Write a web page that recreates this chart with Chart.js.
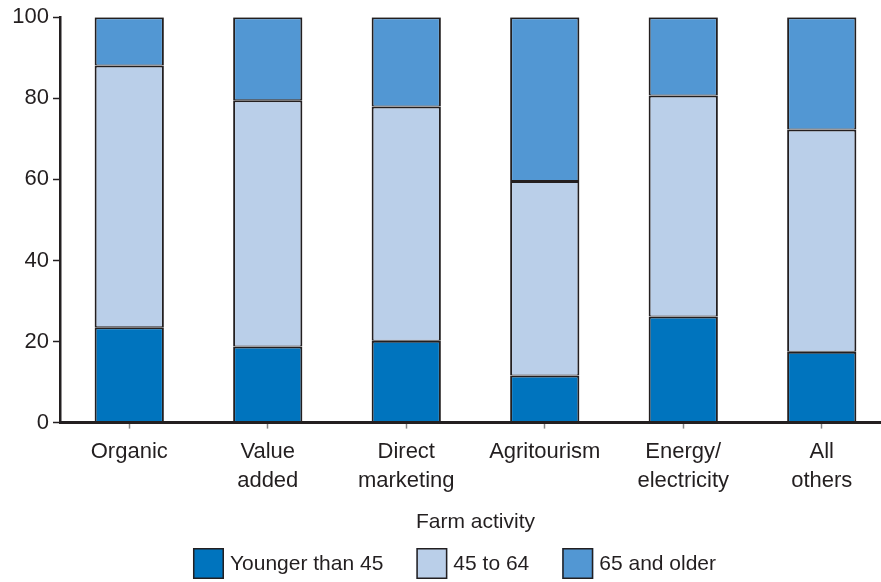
<!DOCTYPE html>
<html>
<head>
<meta charset="utf-8">
<script src="https://cdn.jsdelivr.net/npm/chart.js@4"></script>
<style>
html,body{margin:0;padding:0;background:#fff;overflow:hidden;width:881px;height:582px;}
canvas{display:block;}
</style>
</head>
<body>
<canvas id="c" width="891" height="582"></canvas>
<script>
const categories = [["Organic"], ["Value", "added"], ["Direct", "marketing"], ["Agritourism"], ["Energy/", "electricity"], ["All", "others"]];
const seriesNames = ["Younger than 45", "45 to 64", "65 and older"];
const younger = [23.5, 18.8, 20.2, 11.6, 26.2, 17.5];
const middle = [64.6, 60.7, 57.8, 48.0, 54.5, 54.8];
const older = [11.9, 20.5, 22.0, 40.4, 19.3, 27.7];
const yTicks = [0, 20, 40, 60, 80, 100];
const colors = ["#0074BE", "#BACFE9", "#5297D3"];

const ink = "#231f20";
const font = "'Liberation Sans', Arial, sans-serif";
const mk = (label, data, color) => ({
  label, data, backgroundColor: color, borderColor: ink,
  borderWidth: {top: 2, bottom: 1, left: 2, right: 2}, borderSkipped: false,
  barPercentage: 0.5, categoryPercentage: 1.0
});

// Legend drawn as real canvas text, laid out in a row below the axis title
const legendRow = {
  id: "legendRow",
  afterDraw(chart) {
    const ctx = chart.ctx;
    const box = 31, gap = 6, itemGap = 33, cy = 563.5;
    ctx.save();
    ctx.font = "21px " + font;
    const items = chart.data.datasets.map(d => ({text: d.label, color: d.backgroundColor, w: ctx.measureText(d.label).width}));
    const total = items.reduce((s, it) => s + box + gap + it.w, 0) + itemGap * (items.length - 1);
    let x = 454.5 - total / 2;
    ctx.textBaseline = "middle";
    ctx.textAlign = "left";
    items.forEach(it => {
      ctx.fillStyle = it.color;
      ctx.fillRect(x, cy - box / 2, box, box);
      ctx.lineWidth = 1.5;
      ctx.strokeStyle = ink;
      ctx.strokeRect(x + 0.75, cy - box / 2 + 0.75, box - 1.5, box - 1.5);
      ctx.fillStyle = ink;
      ctx.fillText(it.text, x + box + gap, cy + 1);
      x += box + gap + it.w + itemGap;
    });
    ctx.restore();
  }
};

new Chart(document.getElementById("c"), {
  type: "bar",
  data: {
    labels: categories,
    datasets: [
      mk(seriesNames[0], younger, colors[0]),
      mk(seriesNames[1], middle, colors[1]),
      mk(seriesNames[2], older, colors[2])
    ]
  },
  plugins: [legendRow],
  options: {
    responsive: false,
    devicePixelRatio: 1,
    animation: false,
    layout: {padding: {top: 17, left: 0, right: 0, bottom: 47}},
    plugins: {
      tooltip: {enabled: false},
      legend: {display: false}
    },
    scales: {
      x: {
        stacked: true,
        grid: {offset: false, drawOnChartArea: false, drawTicks: true, tickLength: 6, tickColor: "#888", tickWidth: 1.5},
        border: {color: ink, width: 3},
        ticks: {color: ink, font: {family: font, size: 22, lineHeight: 1.3}, padding: 9, maxRotation: 0, autoSkip: false},
        title: {display: true, text: "Farm activity", color: ink, font: {family: font, size: 21}, padding: {top: 6, bottom: 0}}
      },
      y: {
        stacked: true,
        min: 0, max: 100,
        afterBuildTicks: (s) => { s.ticks = yTicks.map(v => ({value: v})); },
        afterFit: (s) => { s.width = 60; },
        grid: {drawOnChartArea: false, drawTicks: true, tickLength: 7, tickColor: ink, tickWidth: 1.5},
        border: {color: ink, width: 2.5},
        ticks: {color: ink, font: {family: font, size: 22}, padding: 4}
      }
    }
  }
});
</script>
</body>
</html>
